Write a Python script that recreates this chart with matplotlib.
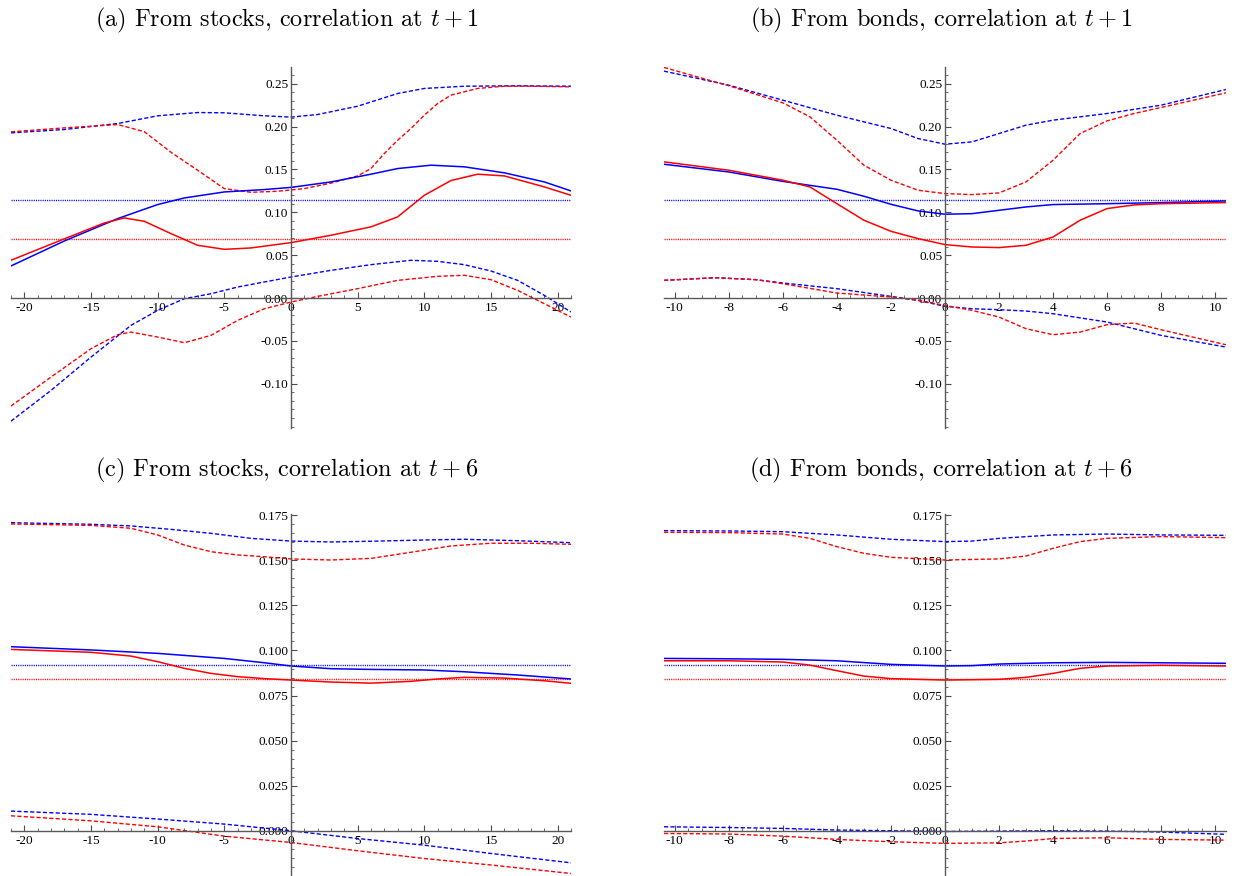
import matplotlib
matplotlib.use("Agg")
import matplotlib.pyplot as plt
from matplotlib.ticker import MultipleLocator, FormatStrFormatter

plt.rcParams["mathtext.fontset"] = "cm"
plt.rcParams["axes.unicode_minus"] = False
plt.rcParams["font.family"] = ["Liberation Serif", "DejaVu Serif"]

# ---- panel (a): from stocks, t+1 ----
a_blue_solid_x = [-21, -17, -13, -10, -8, -5, -2, 0, 3, 6, 8, 10.5, 13, 16, 19, 21]
a_blue_solid_y = [0.0374, 0.0665, 0.0926, 0.109, 0.1167, 0.1237, 0.1265, 0.129, 0.1354, 0.1444,
                  0.151, 0.1549, 0.153, 0.146, 0.1354, 0.1249]
a_red_solid_x = [-21, -17, -14, -12.5, -11, -9, -7, -5, -3, 0, 3, 6, 8, 10, 12, 14, 16, 19, 21]
a_red_solid_y = [0.044, 0.069, 0.0875, 0.0934, 0.0895, 0.0751, 0.0615, 0.0568, 0.0584, 0.0646,
                 0.0732, 0.083, 0.0946, 0.1198, 0.137, 0.1444, 0.1424, 0.1296, 0.1198]
a_blue_up_x = [-21, -17, -13, -10, -7, -5, -2, 0, 2, 5, 8, 10, 13, 17, 21]
a_blue_up_y = [0.1926, 0.1965, 0.2035, 0.2125, 0.2163, 0.216, 0.2125, 0.211, 0.214, 0.2237,
               0.2385, 0.2444, 0.247, 0.2475, 0.247]
a_red_up_x = [-21, -17, -13, -11, -9, -7, -5, -3, -1, 1, 3, 5, 6, 7, 8, 9, 10, 11, 12, 14, 16, 18, 21]
a_red_up_y = [0.1938, 0.1984, 0.2023, 0.194, 0.170, 0.149, 0.1276, 0.1233, 0.1245, 0.1276, 0.134,
              0.1424, 0.151, 0.1685, 0.184, 0.1977, 0.2132, 0.2268, 0.2366, 0.2444, 0.247, 0.247, 0.2463]
a_blue_lo_x = [-21, -18, -15, -12, -10, -8, -6, -4, -2, 0, 3, 6, 9, 11, 13, 15, 17, 19, 21]
a_blue_lo_y = [-0.1436, -0.1078, -0.0689, -0.0319, -0.0144, -0.0008, 0.005, 0.0128, 0.0187, 0.0245,
               0.0323, 0.0389, 0.044, 0.0428, 0.0389, 0.0315, 0.0206, 0.0031, -0.0163]
a_red_lo_x = [-21, -18, -15, -13, -12, -10, -8, -6, -4, -2, 0, 2, 5, 8, 11, 13, 15, 17, 19, 21]
a_red_lo_y = [-0.126, -0.0922, -0.0591, -0.0428, -0.0397, -0.0455, -0.0521, -0.0436, -0.0261, -0.0125,
              -0.0047, 0.0019, 0.0109, 0.0206, 0.0253, 0.0265, 0.0214, 0.0089, -0.0066, -0.0222]
a_blue_avg = 0.114
a_red_avg = 0.0685

# ---- panel (b): from bonds, t+1 ----
b_blue_solid_x = [-10.4, -8, -6, -4, -3, -2, -1, 0, 1, 2, 3, 4, 6, 8, 10.4]
b_blue_solid_y = [0.156, 0.147, 0.136, 0.1268, 0.1187, 0.1093, 0.1016, 0.0977, 0.0984, 0.1023,
                  0.1062, 0.109, 0.110, 0.1113, 0.1132]
b_red_solid_x = [-10.4, -8, -6, -5, -4, -3, -2, -1, 0, 1, 2, 3, 4, 5, 6, 7, 8, 10.4]
b_red_solid_y = [0.1588, 0.149, 0.1374, 0.1296, 0.110, 0.0907, 0.0778, 0.0693, 0.0623, 0.0595,
                 0.0588, 0.0615, 0.0712, 0.0907, 0.1043, 0.1086, 0.110, 0.1113]
b_blue_up_x = [-10.4, -8, -6, -4, -2, -1, 0, 1, 2, 3, 4, 6, 8, 10.4]
b_blue_up_y = [0.2646, 0.2482, 0.2307, 0.2132, 0.1977, 0.186, 0.1794, 0.1821, 0.1918, 0.2016,
               0.2074, 0.2152, 0.2249, 0.2432]
b_red_up_x = [-10.4, -8, -6, -5, -4, -3, -2, -1, 0, 1, 2, 3, 4, 5, 6, 7, 8, 10.4]
b_red_up_y = [0.2689, 0.2475, 0.2276, 0.2113, 0.184, 0.1549, 0.1374, 0.1257, 0.1218, 0.1206,
              0.1226, 0.1354, 0.1607, 0.1918, 0.2066, 0.2152, 0.2222, 0.2393]
b_blue_lo_x = [-10.4, -8.5, -7, -6, -4, -2, -1, 0, 1, 2, 3, 4, 6, 8, 10.4]
b_blue_lo_y = [0.0206, 0.0237, 0.0214, 0.0175, 0.0109, 0.0019, -0.0027, -0.0097, -0.0125, -0.0136,
               -0.0152, -0.0183, -0.028, -0.0436, -0.0572]
b_red_lo_x = [-10.4, -8.5, -7, -6, -4, -2, -1, 0, 1, 2, 3, 4, 5, 6, 7, 8, 10.4]
b_red_lo_y = [0.0206, 0.0237, 0.0214, 0.0167, 0.0058, 0.0012, -0.0027, -0.0086, -0.0144, -0.0222,
              -0.0358, -0.0428, -0.0397, -0.0311, -0.0292, -0.037, -0.0545]
b_blue_avg = 0.114
b_red_avg = 0.0685

# ---- panel (c): from stocks, t+6 ----
c_blue_up_x = [-21, -15, -12, -9, -6, -3, 0, 3, 6, 10, 13, 17, 21]
c_blue_up_y = [0.1709, 0.170, 0.1691, 0.1672, 0.165, 0.1622, 0.1607, 0.1602, 0.1606, 0.1613,
               0.1617, 0.1609, 0.1598]
c_red_up_x = [-21, -15, -12, -10, -8, -6, -4, -2, 0, 3, 6, 9, 12, 15, 18, 21]
c_red_up_y = [0.1702, 0.1694, 0.1678, 0.1641, 0.1585, 0.1548, 0.153, 0.152, 0.1508, 0.1502,
              0.1511, 0.1545, 0.158, 0.1595, 0.1595, 0.1589]
c_blue_solid_x = [-21, -15, -10, -5, -2, 0, 3, 6, 10, 13, 17, 21]
c_blue_solid_y = [0.1021, 0.1003, 0.0984, 0.0956, 0.0932, 0.0914, 0.0899, 0.0895, 0.0892, 0.0882,
                  0.0864, 0.0842]
c_red_solid_x = [-21, -15, -12, -10, -8, -6, -4, -2, 0, 3, 6, 9, 11, 13, 16, 19, 21]
c_red_solid_y = [0.1006, 0.099, 0.0969, 0.0938, 0.0901, 0.0873, 0.0855, 0.0844, 0.0836, 0.0825,
                 0.0819, 0.0829, 0.0842, 0.0851, 0.0847, 0.0832, 0.0818]
c_blue_lo_x = [-21, -15, -10, -5, 0, 5, 10, 15, 21]
c_blue_lo_y = [0.0109, 0.0091, 0.0065, 0.0037, 0.0, -0.0043, -0.008, -0.0126, -0.0178]
c_red_lo_x = [-21, -15, -10, -5, 0, 5, 10, 15, 21]
c_red_lo_y = [0.0083, 0.0055, 0.0022, -0.003, -0.0065, -0.0111, -0.0154, -0.019, -0.0237]
c_blue_avg = 0.0919
c_red_avg = 0.084

# ---- panel (d): from bonds, t+6 ----
d_blue_up_x = [-10.4, -8, -6, -4, -2, 0, 1, 2, 4, 6, 8, 10.4]
d_blue_up_y = [0.1665, 0.1663, 0.1659, 0.1641, 0.1617, 0.1604, 0.1607, 0.1622, 0.1641, 0.1646,
               0.1641, 0.1639]
d_red_up_x = [-10.4, -8, -6, -5, -4, -3, -2, 0, 2, 3, 4, 5, 6, 8, 10.4]
d_red_up_y = [0.1656, 0.1654, 0.1646, 0.1622, 0.1576, 0.1539, 0.1517, 0.1502, 0.1508, 0.1524,
              0.1567, 0.1604, 0.1622, 0.1632, 0.1626]
d_blue_solid_x = [-10.4, -8, -6, -4, -2, 0, 1, 2, 4, 6, 10.4]
d_blue_solid_y = [0.0956, 0.0954, 0.0951, 0.0943, 0.0923, 0.0914, 0.0916, 0.0925, 0.0932, 0.0934, 0.0929]
d_red_solid_x = [-10.4, -8, -6, -5, -4, -3, -2, 0, 2, 3, 4, 5, 6, 8, 10.4]
d_red_solid_y = [0.0943, 0.0943, 0.0936, 0.0919, 0.0888, 0.0858, 0.0844, 0.0836, 0.084, 0.0851,
                 0.0873, 0.0901, 0.0914, 0.0918, 0.0914]
d_blue_lo_x = [-10.4, -8, -6, -4, -2, 0, 2, 4, 6, 8, 10.4]
d_blue_lo_y = [0.0022, 0.0018, 0.0013, 0.0004, 0.0, -0.0004, -0.0002, 0.0, -0.0002, -0.0007, -0.002]
d_red_lo_x = [-10.4, -8, -6, -4, -2, 0, 2, 3, 4, 6, 8, 10.4]
d_red_lo_y = [-0.0015, -0.0018, -0.003, -0.0048, -0.0061, -0.007, -0.0067, -0.0057, -0.0043,
              -0.0039, -0.0048, -0.0052]
d_blue_avg = 0.0921
d_red_avg = 0.084

# tick values shown on the axes
stock_xticks = [-20, -15, -10, -5, 0, 5, 10, 15, 20]
bond_xticks = [-10, -8, -6, -4, -2, 0, 2, 4, 6, 8, 10]
t1_yticks = [-0.10, -0.05, 0.00, 0.05, 0.10, 0.15, 0.20, 0.25]
t6_yticks = [0.000, 0.025, 0.050, 0.075, 0.100, 0.125, 0.150, 0.175]

titles = ["(a) From stocks, correlation at $t+1$",
          "(b) From bonds, correlation at $t+1$",
          "(c) From stocks, correlation at $t+6$",
          "(d) From bonds, correlation at $t+6$"]

BLUE = (0, 0, 1)
RED = (1, 0, 0)


def draw_panel(ax, dashed, solid, avgs, xlim, ylim, xticks, xmin, yticks, ymin, yfmt):
    for x, y, c in dashed:
        ax.plot(x, y, color=c, lw=1.0, dashes=(3, 1.6))
    for v, c in avgs:
        ax.axhline(v, color=c, lw=1.0, dashes=(0.8, 0.8))
    for x, y, c in solid:
        ax.plot(x, y, color=c, lw=1.1)

    ax.set_xlim(*xlim)
    ax.set_ylim(*ylim)
    for s in ("top", "right"):
        ax.spines[s].set_visible(False)
    ax.spines["left"].set_position(("data", 0))
    ax.spines["bottom"].set_position(("data", 0))
    for s in ("left", "bottom"):
        ax.spines[s].set_color("0.35")
        ax.spines[s].set_linewidth(1.0)

    ax.set_xticks(xticks)
    ax.set_yticks(yticks)
    ax.xaxis.set_minor_locator(MultipleLocator(xmin))
    ax.yaxis.set_minor_locator(MultipleLocator(ymin))
    ax.xaxis.set_major_formatter(FormatStrFormatter("%d"))
    ax.yaxis.set_major_formatter(FormatStrFormatter(yfmt))
    ax.set_xlim(*xlim)
    ax.set_ylim(*ylim)
    ax.tick_params(which="both", direction="in", color="0.3", labelsize=9.5)
    ax.tick_params(which="major", length=4, width=0.8)
    ax.tick_params(which="minor", length=2.2, width=0.6)
    ax.tick_params(axis="x", pad=3)
    ax.tick_params(axis="y", pad=2)
    ax.patch.set_visible(False)


fig = plt.figure(figsize=(12.34, 8.76), dpi=100)

ax_a = fig.add_axes([0.0089, 0.5114, 0.4538, 0.4121])
ax_b = fig.add_axes([0.5381, 0.5114, 0.4554, 0.4121])
ax_c = fig.add_axes([0.0089, 0.0, 0.4538, 0.4132])
ax_d = fig.add_axes([0.5381, 0.0, 0.4554, 0.4132])

draw_panel(ax_a,
           [(a_blue_up_x, a_blue_up_y, BLUE), (a_red_up_x, a_red_up_y, RED),
            (a_blue_lo_x, a_blue_lo_y, BLUE), (a_red_lo_x, a_red_lo_y, RED)],
           [(a_blue_solid_x, a_blue_solid_y, BLUE), (a_red_solid_x, a_red_solid_y, RED)],
           [(a_blue_avg, BLUE), (a_red_avg, RED)],
           (-21, 21), (-0.1516, 0.2694), stock_xticks, 1, t1_yticks, 0.01, "%.2f")
draw_panel(ax_b,
           [(b_blue_up_x, b_blue_up_y, BLUE), (b_red_up_x, b_red_up_y, RED),
            (b_blue_lo_x, b_blue_lo_y, BLUE), (b_red_lo_x, b_red_lo_y, RED)],
           [(b_blue_solid_x, b_blue_solid_y, BLUE), (b_red_solid_x, b_red_solid_y, RED)],
           [(b_blue_avg, BLUE), (b_red_avg, RED)],
           (-10.4, 10.4), (-0.1516, 0.2694), bond_xticks, 0.5, t1_yticks, 0.01, "%.2f")
draw_panel(ax_c,
           [(c_blue_up_x, c_blue_up_y, BLUE), (c_red_up_x, c_red_up_y, RED),
            (c_blue_lo_x, c_blue_lo_y, BLUE), (c_red_lo_x, c_red_lo_y, RED)],
           [(c_blue_solid_x, c_blue_solid_y, BLUE), (c_red_solid_x, c_red_solid_y, RED)],
           [(c_blue_avg, BLUE), (c_red_avg, RED)],
           (-21, 21), (-0.0251, 0.1757), stock_xticks, 1, t6_yticks, 0.005, "%.3f")
draw_panel(ax_d,
           [(d_blue_up_x, d_blue_up_y, BLUE), (d_red_up_x, d_red_up_y, RED),
            (d_blue_lo_x, d_blue_lo_y, BLUE), (d_red_lo_x, d_red_lo_y, RED)],
           [(d_blue_solid_x, d_blue_solid_y, BLUE), (d_red_solid_x, d_red_solid_y, RED)],
           [(d_blue_avg, BLUE), (d_red_avg, RED)],
           (-10.4, 10.4), (-0.0251, 0.1757), bond_xticks, 0.5, t6_yticks, 0.005, "%.3f")

title_pos = [(0.2323, 0.9764), (0.7626, 0.9764), (0.2323, 0.4635), (0.7626, 0.4635)]
for (tx, ty), t in zip(title_pos, titles):
    fig.text(tx, ty, t, family="cmr10", size=17.5, ha="center", va="center")

fig.savefig("out.png", dpi=100)
